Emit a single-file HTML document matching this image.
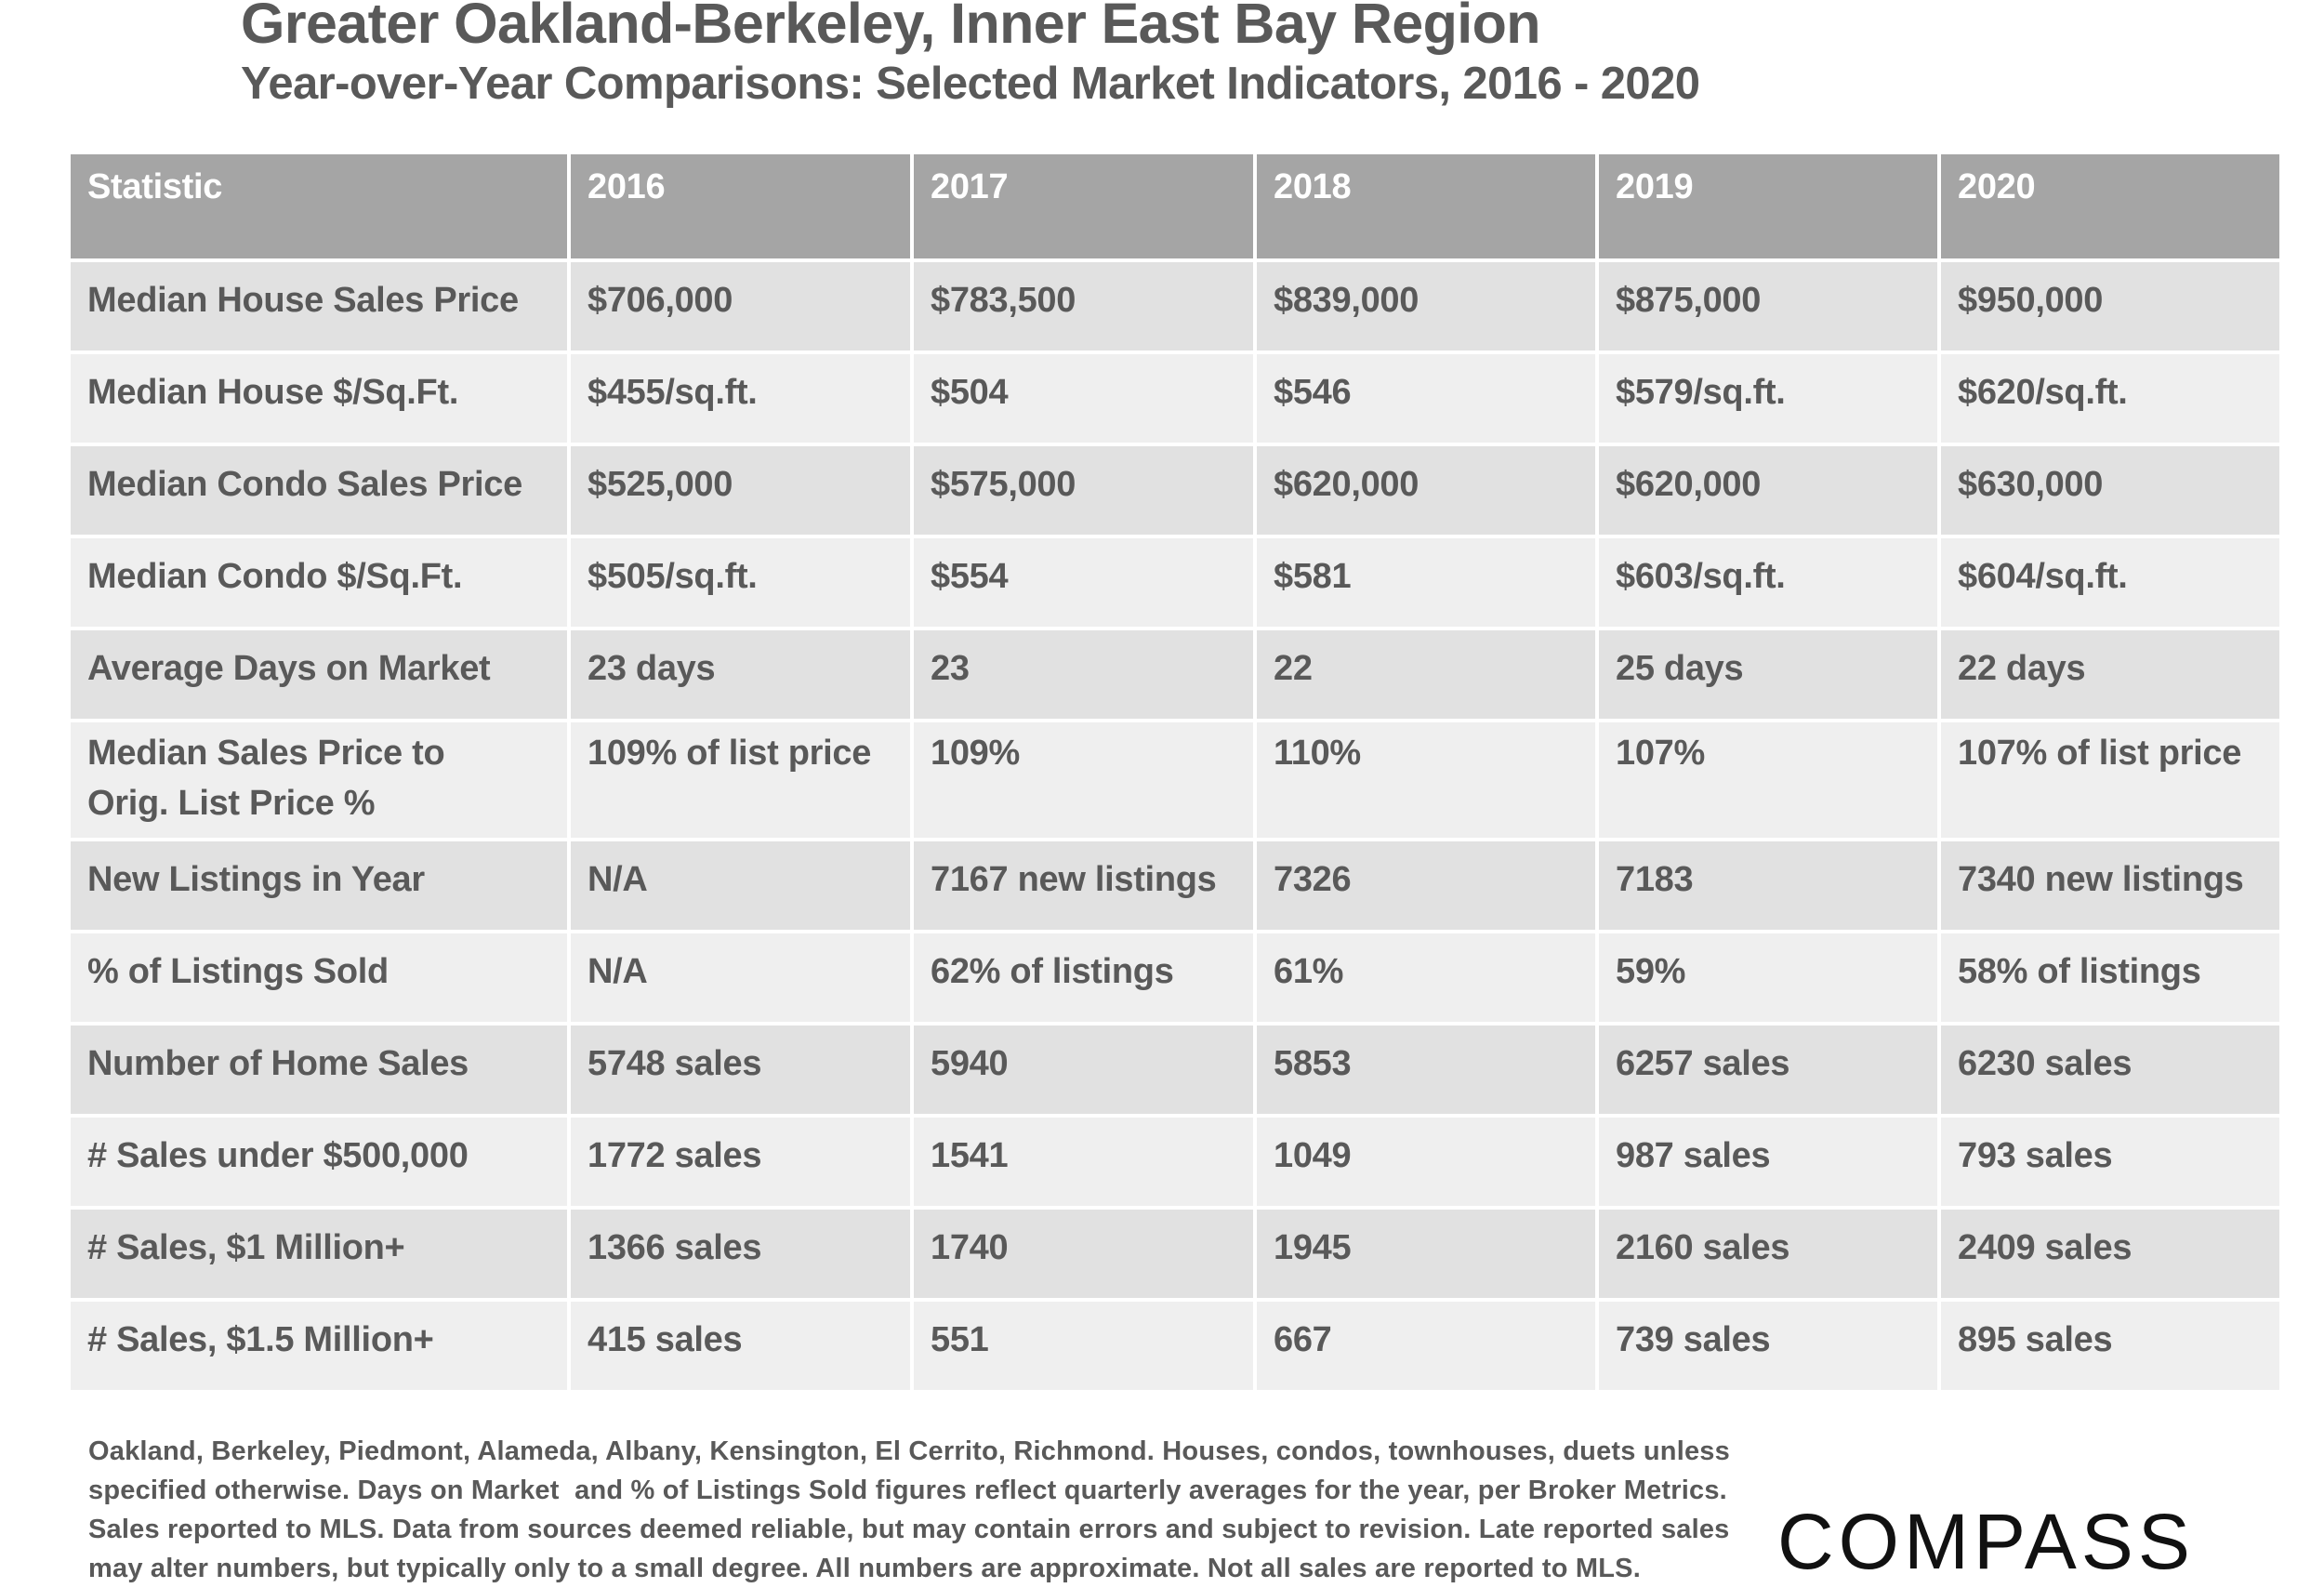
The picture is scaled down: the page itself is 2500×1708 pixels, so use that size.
<!DOCTYPE html>
<html><head><meta charset="utf-8"><style>
body{margin:0;width:2500px;height:1706px;background:#fff;position:relative;overflow:hidden;font-family:"Liberation Sans",Arial,sans-serif;color:#595959}
.t1{position:absolute;left:259px;top:-10px;font-size:61px;font-weight:bold;letter-spacing:-0.6px;white-space:nowrap}
.t2{position:absolute;left:259px;top:62px;font-size:49px;font-weight:bold;letter-spacing:-0.6px;white-space:nowrap}
table{position:absolute;left:72px;top:162px;border-collapse:collapse;table-layout:fixed}
td,th{border:4px solid #fff;text-align:left;vertical-align:top;padding:20px 0 0 18px;font-size:38px;font-weight:bold;letter-spacing:-0.3px;white-space:nowrap;overflow:hidden}
th{background:#a5a5a5;color:#fff;height:98px;padding-top:14px}
tr.o td{background:#e1e1e1}tr.e td{background:#efefef}
td{height:75px}
.foot{position:absolute;left:95px;top:1540px;font-size:29px;line-height:42px;font-weight:bold;letter-spacing:0.2px;color:#595959;white-space:nowrap}
.logo{position:absolute;left:1912px;top:1610px;font-size:84px;color:#111;letter-spacing:5px;font-weight:normal}
</style></head><body>
<div class="t1">Greater Oakland-Berkeley, Inner East Bay Region</div>
<div class="t2">Year-over-Year Comparisons: Selected Market Indicators, 2016 - 2020</div>
<table>
<colgroup><col style="width:538px"><col style="width:369px"><col style="width:369px"><col style="width:368px"><col style="width:368px"><col style="width:368px"></colgroup>
<tr><th>Statistic</th><th>2016</th><th>2017</th><th>2018</th><th>2019</th><th>2020</th></tr>
<tr class="o"><td>Median House Sales Price</td><td>$706,000</td><td>$783,500</td><td>$839,000</td><td>$875,000</td><td>$950,000</td></tr>
<tr class="e"><td>Median House $/Sq.Ft.</td><td>$455/sq.ft.</td><td>$504</td><td>$546</td><td>$579/sq.ft.</td><td>$620/sq.ft.</td></tr>
<tr class="o"><td>Median Condo Sales Price</td><td>$525,000</td><td>$575,000</td><td>$620,000</td><td>$620,000</td><td>$630,000</td></tr>
<tr class="e"><td>Median Condo $/Sq.Ft.</td><td>$505/sq.ft.</td><td>$554</td><td>$581</td><td>$603/sq.ft.</td><td>$604/sq.ft.</td></tr>
<tr class="o"><td>Average Days on Market</td><td>23 days</td><td>23</td><td>22</td><td>25 days</td><td>22 days</td></tr>
<tr class="e"><td style="height:118px;white-space:normal;line-height:54px;padding-top:6px">Median Sales Price to<br>Orig. List Price %</td><td style="padding-top:6px;line-height:54px">109% of list price</td><td style="padding-top:6px;line-height:54px">109%</td><td style="padding-top:6px;line-height:54px">110%</td><td style="padding-top:6px;line-height:54px">107%</td><td style="padding-top:6px;line-height:54px">107% of list price</td></tr>
<tr class="o"><td>New Listings in Year</td><td>N/A</td><td>7167 new listings</td><td>7326</td><td>7183</td><td>7340 new listings</td></tr>
<tr class="e"><td>% of Listings Sold</td><td>N/A</td><td>62% of listings</td><td>61%</td><td>59%</td><td>58% of listings</td></tr>
<tr class="o"><td>Number of Home Sales</td><td>5748 sales</td><td>5940</td><td>5853</td><td>6257 sales</td><td>6230 sales</td></tr>
<tr class="e"><td># Sales under $500,000</td><td>1772 sales</td><td>1541</td><td>1049</td><td>987 sales</td><td>793 sales</td></tr>
<tr class="o"><td># Sales, $1 Million+</td><td>1366 sales</td><td>1740</td><td>1945</td><td>2160 sales</td><td>2409 sales</td></tr>
<tr class="e"><td># Sales, $1.5 Million+</td><td>415 sales</td><td>551</td><td>667</td><td>739 sales</td><td>895 sales</td></tr>
</table>
<div class="foot">Oakland, Berkeley, Piedmont, Alameda, Albany, Kensington, El Cerrito, Richmond. Houses, condos, townhouses, duets unless<br>specified otherwise. Days on Market &nbsp;and % of Listings Sold figures reflect quarterly averages for the year, per Broker Metrics.<br>Sales reported to MLS. Data from sources deemed reliable, but may contain errors and subject to revision. Late reported sales<br>may alter numbers, but typically only to a small degree. All numbers are approximate. Not all sales are reported to MLS.</div>
<div class="logo">COMPASS</div>
</body></html>
